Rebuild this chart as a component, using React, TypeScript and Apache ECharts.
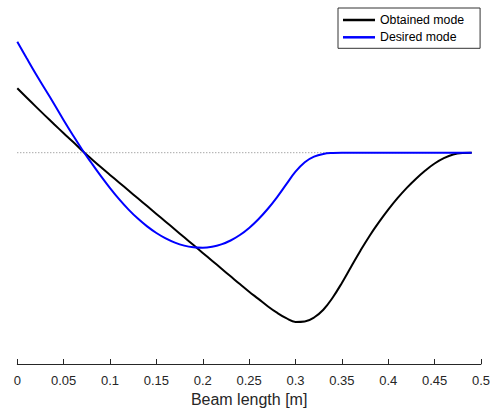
import React, { useEffect, useRef } from "react";
import * as echarts from "echarts";

const xTicks = [0, 0.05, 0.1, 0.15, 0.2, 0.25, 0.3, 0.35, 0.4, 0.45, 0.5];

const obtainedX = [0, 0.01, 0.02, 0.03, 0.04, 0.05, 0.06, 0.07, 0.08, 0.09, 0.1, 0.11, 0.12, 0.13, 0.14, 0.15, 0.16, 0.17, 0.18, 0.19, 0.2, 0.21, 0.22, 0.23, 0.24, 0.25, 0.26, 0.27, 0.28, 0.29, 0.3, 0.31, 0.32, 0.33, 0.34, 0.35, 0.36, 0.37, 0.38, 0.39, 0.4, 0.41, 0.42, 0.43, 0.44, 0.45, 0.46, 0.47, 0.48, 0.49];
const obtainedY = [0.644, 0.552, 0.461, 0.371, 0.282, 0.195, 0.109, 0.02, -0.062, -0.143, -0.222, -0.3, -0.378, -0.456, -0.534, -0.612, -0.69, -0.768, -0.846, -0.924, -1.002, -1.08, -1.158, -1.236, -1.314, -1.39, -1.462, -1.535, -1.6, -1.655, -1.693, -1.688, -1.648, -1.57, -1.45, -1.302, -1.14, -0.98, -0.83, -0.695, -0.57, -0.455, -0.352, -0.26, -0.178, -0.108, -0.055, -0.018, -0.003, 0];

const desiredX = [0, 0.01, 0.02, 0.03, 0.04, 0.05, 0.06, 0.07, 0.08, 0.09, 0.1, 0.11, 0.12, 0.13, 0.14, 0.15, 0.16, 0.17, 0.18, 0.19, 0.2, 0.21, 0.22, 0.23, 0.24, 0.25, 0.26, 0.27, 0.28, 0.29, 0.3, 0.31, 0.32, 0.33, 0.34, 0.35, 0.36, 0.38, 0.4, 0.42, 0.44, 0.46, 0.49];
const desiredY = [1.11, 0.947, 0.787, 0.635, 0.482, 0.325, 0.175, 0.03, -0.103, -0.232, -0.354, -0.467, -0.569, -0.659, -0.737, -0.803, -0.857, -0.899, -0.929, -0.946, -0.951, -0.941, -0.917, -0.878, -0.823, -0.752, -0.665, -0.563, -0.446, -0.317, -0.19, -0.095, -0.04, -0.013, -0.003, 0, 0, 0, 0, 0, 0, 0, 0];

const zeroX = [0, 0.49];
const zeroY = [0, 0];

const zip = (xs: number[], ys: number[]) => xs.map((x, i) => [x, ys[i]]);

export default function App() {
  const ref = useRef<HTMLDivElement>(null);
  useEffect(() => {
    if (!ref.current) return;
    const chart = echarts.init(ref.current, null, { renderer: "svg" });
    const font = "Arial, 'Liberation Sans', Helvetica, sans-serif";
    chart.setOption({
      animation: false,
      backgroundColor: "#ffffff",
      grid: { left: 17.3, right: 7.3, top: 14, bottom: 50 },
      legend: {
        show: true,
        orient: "vertical",
        left: 338,
        top: 8,
        padding: [5, 16, 4, 5],
        icon: "rect",
        itemWidth: 32,
        itemHeight: 2.5,
        itemGap: 3.3,
        borderColor: "#333333",
        borderWidth: 1,
        borderRadius: 0,
        backgroundColor: "#ffffff",
        data: ["Obtained mode", "Desired mode"],
        textStyle: { fontFamily: font, fontSize: 12.3, lineHeight: 14, color: "#000" },
      },
      xAxis: {
        type: "value",
        min: 0,
        max: 0.5,
        interval: 0.05,
        name: "Beam length [m]",
        nameLocation: "middle",
        nameGap: 26,
        nameTextStyle: { fontFamily: font, fontSize: 16, color: "#262626" },
        axisLine: { show: true, onZero: false, lineStyle: { color: "#262626", width: 1 } },
        axisTick: { show: true, inside: true, length: 5, lineStyle: { color: "#262626" } },
        axisLabel: {
          fontFamily: font,
          fontSize: 13,
          color: "#262626",
          margin: 10,
          formatter: (v: number) => {
            const m = xTicks.find((t) => Math.abs(t - v) < 1e-9);
            return m === undefined ? "" : String(parseFloat(m.toFixed(2)));
          },
        },
        splitLine: { show: false },
      },
      yAxis: {
        type: "value",
        min: -2.113,
        max: 1.387,
        show: false,
        splitLine: { show: false },
      },
      series: [
        {
          name: "zero",
          type: "line",
          data: zip(zeroX, zeroY),
          showSymbol: false,
          symbol: "none",
          silent: true,
          lineStyle: { color: "#808080", width: 1, type: [1, 2] },
          z: 1,
        },
        {
          name: "Obtained mode",
          type: "line",
          data: zip(obtainedX, obtainedY),
          smooth: 0.4,
          symbol: "none",
          lineStyle: { color: "#000000", width: 2 },
          itemStyle: { color: "#000000" },
          z: 2,
        },
        {
          name: "Desired mode",
          type: "line",
          data: zip(desiredX, desiredY),
          smooth: 0.4,
          symbol: "none",
          lineStyle: { color: "#0000ff", width: 2 },
          itemStyle: { color: "#0000ff" },
          z: 3,
        },
      ],
    });
    return () => chart.dispose();
  }, []);
  return <div ref={ref} style={{ width: 493, height: 414, position: "absolute", left: 0, top: 0 }} />;
}
